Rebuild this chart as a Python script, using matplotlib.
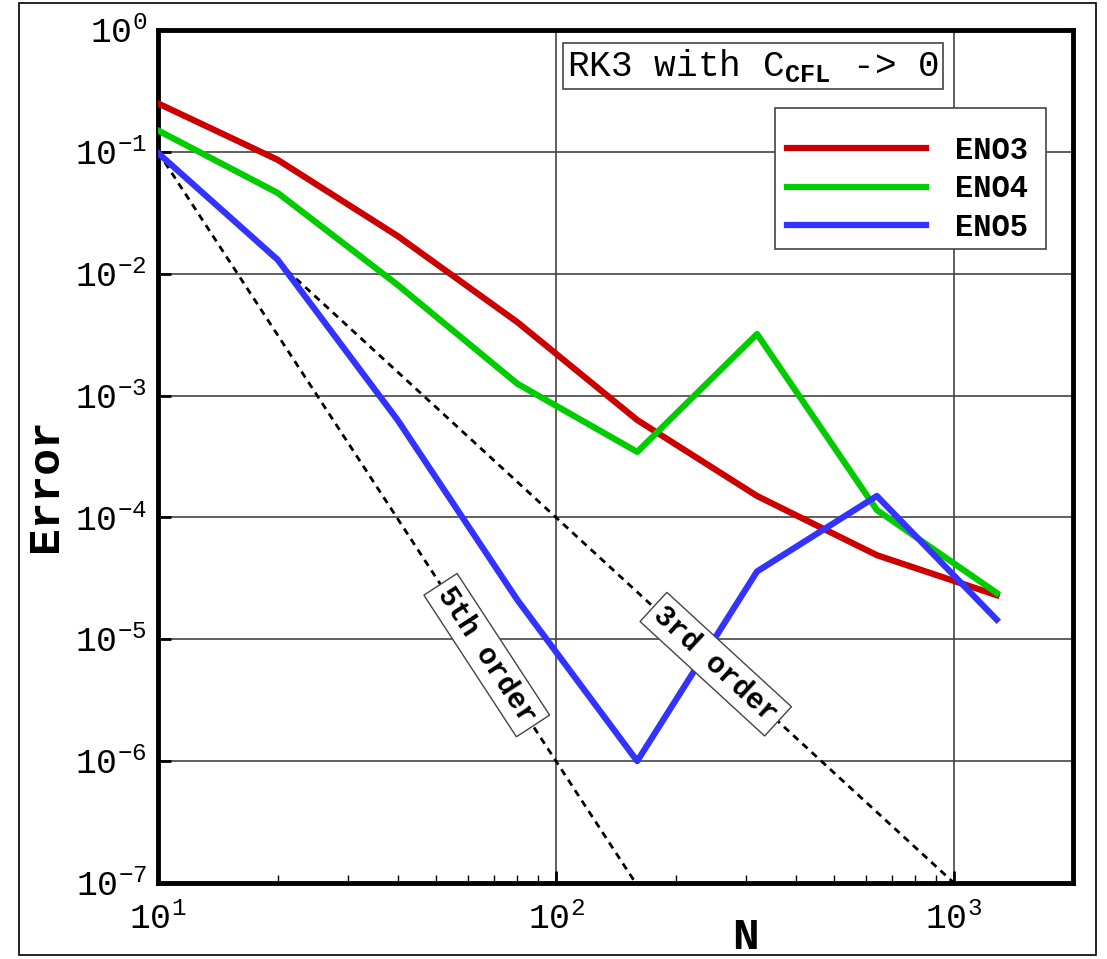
import numpy as np
from matplotlib import pyplot as plt
from matplotlib.patches import Rectangle

plt.rcParams['font.family'] = ['Liberation Mono', 'DejaVu Sans']
plt.rcParams['mathtext.fontset'] = 'custom'
plt.rcParams['mathtext.rm'] = 'Liberation Mono'
plt.rcParams['mathtext.it'] = 'Liberation Mono'
plt.rcParams['mathtext.bf'] = 'Liberation Mono:bold'
plt.rcParams['axes.unicode_minus'] = False

# grid sizes and errors
N = [10, 20, 40, 80, 160, 320, 640, 1280]
eno3 = [0.25, 0.086, 0.0204, 4.0e-3, 6.3e-4, 1.5e-4, 4.9e-5, 2.3e-5]
eno4 = [0.15, 0.046, 8.1e-3, 1.25e-3, 3.45e-4, 3.2e-3, 1.15e-4, 2.4e-5]
eno5 = [0.098, 0.013, 6.3e-4, 2.1e-5, 1.0e-6, 3.6e-5, 1.5e-4, 1.45e-5]

# reference slopes (3rd and 5th order, both from (10, 0.1) down to 1e-7)
ref_x3 = [10, 1000]
ref_y3 = [0.1, 1e-7]
ref_x5 = [10, 10**2.2]
ref_y5 = [0.1, 1e-7]

fig = plt.figure(figsize=(11.07, 9.59), dpi=100)
ax = fig.add_axes([0.1427, 0.0793, 0.8266, 0.8894])

ax.plot(ref_x5, ref_y5, color='black', ls=(0, (2.5, 2)), lw=2, zorder=3)
ax.plot(ref_x3, ref_y3, color='black', ls=(0, (2.5, 2)), lw=2, zorder=3)
ax.plot(N, eno3, color='#cc0000', lw=4.5, label='ENO3', zorder=4)
ax.plot(N, eno4, color='#00cc00', lw=4.5, label='ENO4', zorder=4)
ax.plot(N, eno5, color='#3333ff', lw=4.5, label='ENO5', zorder=4)

ax.set_xscale('log')
ax.set_yscale('log')
ax.set_xlim(10, 1991)
ax.set_ylim(1e-7, 1)

ax.grid(True, which='major', color='#444444', lw=1.2)
ax.set_axisbelow(True)
for s in ax.spines.values():
    s.set_linewidth(3.5)

ax.tick_params(which='major', direction='in', length=9, width=2, labelsize=25,
               pad=8)
ax.tick_params(axis='x', which='major', pad=14)
ax.tick_params(which='minor', direction='in', length=6, width=1)
ax.yaxis.set_minor_locator(plt.NullLocator())
ax.set_yticks([10.0**k for k in range(-7, 1)])

ax.set_xlabel('N', fontsize=32, fontweight='bold')
ax.xaxis.set_label_coords(0.642, -0.04)
ax.set_ylabel('Error', fontsize=32, fontweight='bold')
ax.yaxis.set_label_coords(-0.10, 0.467)

# title box
ax.text(0.650, 0.958, r'RK3 with C$_{\mathbf{CFL}}$ -> 0', transform=ax.transAxes,
        fontsize=26, ha='center', va='center', zorder=6,
        bbox=dict(boxstyle='square,pad=0.12', fc='white', ec='#444444', lw=1.2))

# legend: frame drawn by hand so the padding matches
ax.add_patch(Rectangle((0.674, 0.743), 0.296, 0.1656, transform=ax.transAxes,
                       fc='white', ec='#444444', lw=1.2, zorder=6))
leg = ax.legend(loc='upper left', bbox_to_anchor=(0.687, 0.8760),
                handlelength=4.55, handletextpad=0.95, borderpad=0,
                borderaxespad=0, labelspacing=0.28, frameon=False,
                prop={'weight': 'bold', 'size': 22})
leg.set_zorder(7)


def slope_label(xs, ys, xc, txt):
    p0 = ax.transData.transform((xs[0], ys[0]))
    p1 = ax.transData.transform((xs[1], ys[1]))
    ang = np.degrees(np.arctan2(p1[1] - p0[1], p1[0] - p0[0]))
    k = np.log(ys[1] / ys[0]) / np.log(xs[1] / xs[0])
    yc = ys[0] * (xc / xs[0]) ** k
    ax.text(xc, yc, txt, rotation=ang, rotation_mode='anchor', ha='center',
            va='center', fontsize=21, fontweight='bold', zorder=5,
            bbox=dict(boxstyle='square,pad=0.2', fc='white', ec='#444444', lw=1))


slope_label(ref_x5, ref_y5, 67, '5th order')
slope_label(ref_x3, ref_y3, 252, '3rd order')

fig.patches.append(Rectangle((0.017, 0.004), 0.973, 0.993, transform=fig.transFigure,
                             fill=False, ec='black', lw=1.2))

fig.savefig('out.png', dpi=100)
